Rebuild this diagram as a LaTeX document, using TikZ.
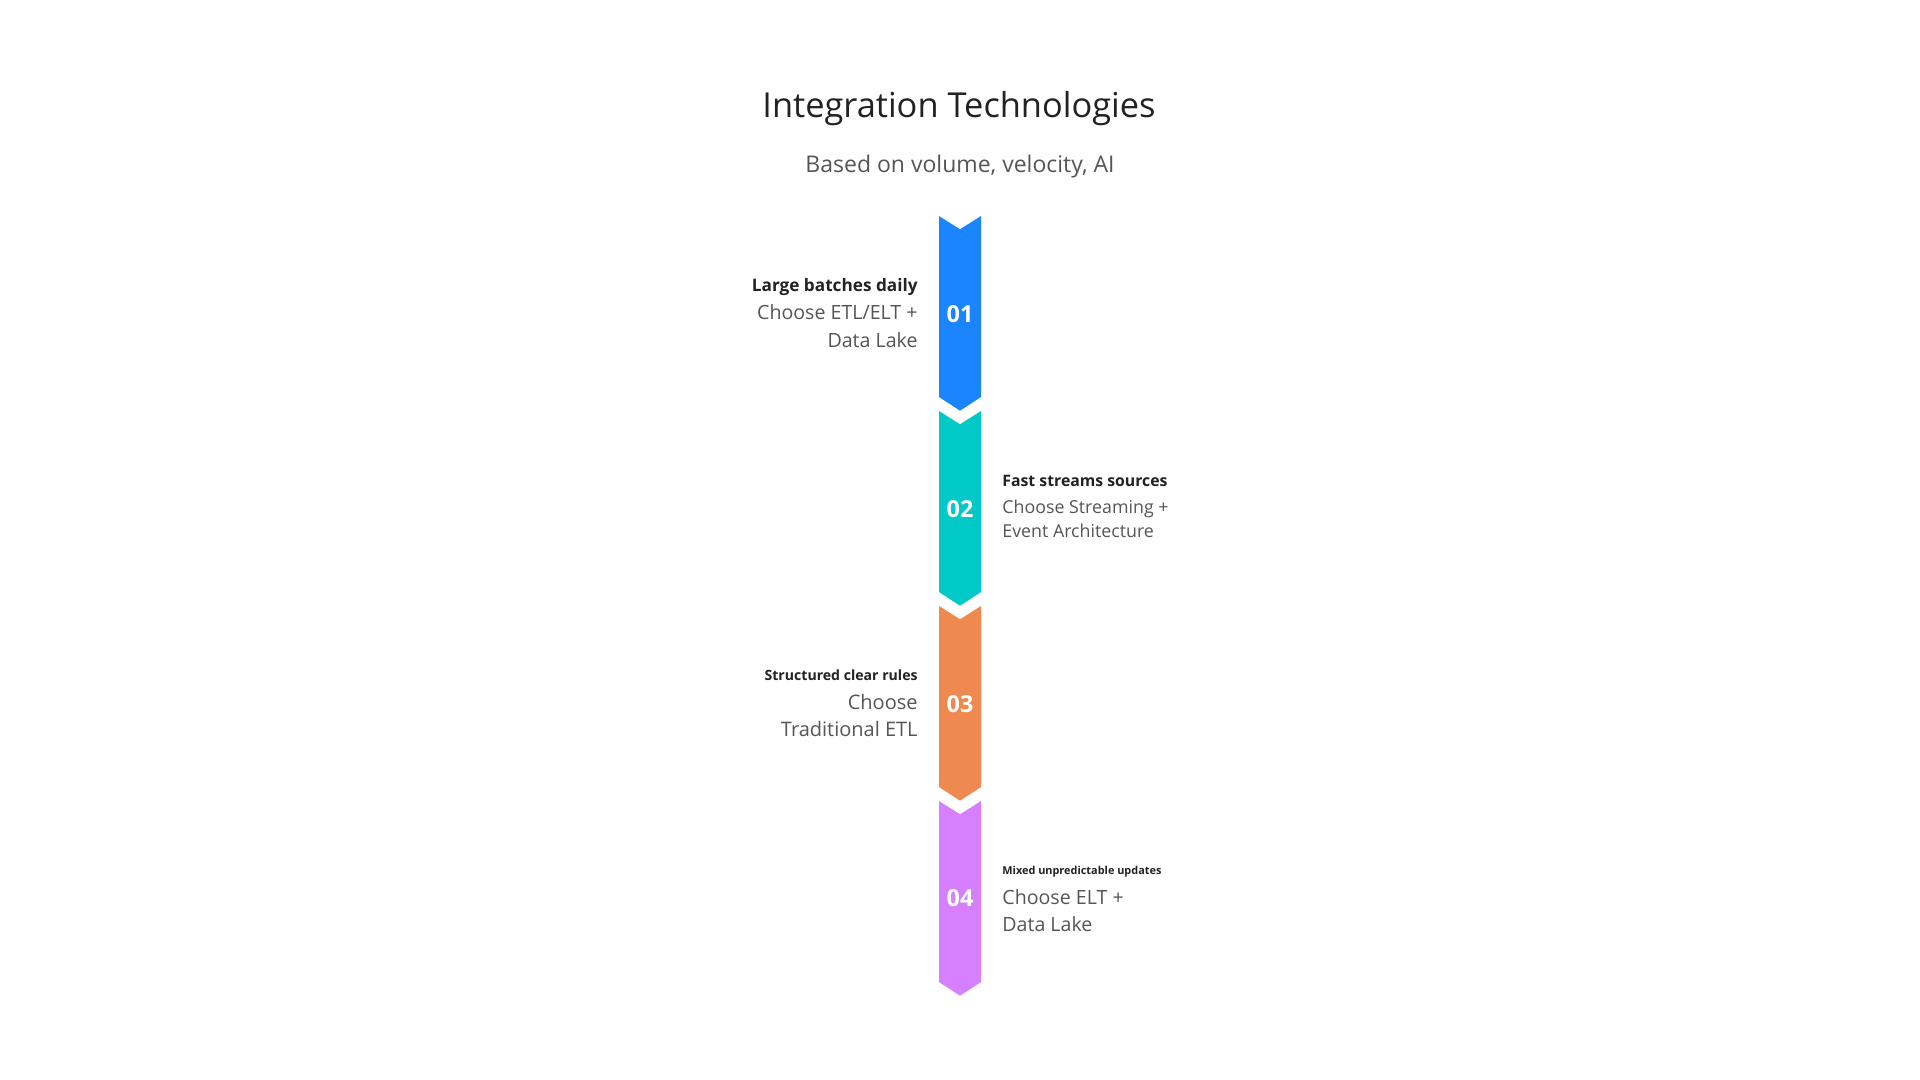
\documentclass[tikz,border=0pt]{standalone}
\usepackage{fontspec}
\setmainfont{Open Sans}

\definecolor{blue1}{HTML}{1A85FF}
\definecolor{teal2}{HTML}{00C9C8}
\definecolor{orange3}{HTML}{F0894F}
\definecolor{purple4}{HTML}{D680FF}
\definecolor{headtext}{HTML}{222222}
\definecolor{bodytext}{HTML}{555555}

\begin{document}
\begin{tikzpicture}[x=0.5pt, y=-0.5pt,
  num/.style={text=white, anchor=base, font=\bfseries\fontsize{11.7}{14}\selectfont},
  head/.style={text=headtext, inner sep=0pt, font=\bfseries},
  body/.style={text=bodytext, inner sep=0pt}]

\useasboundingbox (0,0) rectangle (1920,1080);

\node[text=headtext, anchor=base, inner sep=0pt, font=\fontsize{17.2}{20}\selectfont] (title) at (959,118) {Integration Technologies};
\node[text=bodytext, anchor=base, inner sep=0pt, font=\fontsize{11.5}{14}\selectfont] (subtitle) at (960,172.7) {Based on volume, velocity, AI};

% chevrons
\fill[blue1] (939,216) -- (960,229.3) -- (981,216) -- (981,397) -- (960,410.7) -- (939,397) -- cycle;
\fill[teal2] (939,411) -- (960,424.3) -- (981,411) -- (981,592) -- (960,605.7) -- (939,592) -- cycle;
\fill[orange3] (939,606) -- (960,619.3) -- (981,606) -- (981,787) -- (960,800.7) -- (939,787) -- cycle;
\fill[purple4] (939,801) -- (960,814.3) -- (981,801) -- (981,982) -- (960,995.7) -- (939,982) -- cycle;

\node[num] (01) at (960,322.7) {01};
\node[num] (02) at (960,517.3) {02};
\node[num] (03) at (960,712) {03};
\node[num] (04) at (960,906.7) {04};

% left side
\node[head, anchor=base east, font=\bfseries\fontsize{8.6}{10}\selectfont] (h1) at (918,291.7) {Large batches daily};
\node[body, anchor=base east, font=\fontsize{9.8}{11}\selectfont] (b1a) at (918,319.3) {Choose ETL/ELT +};
\node[body, anchor=base east, font=\fontsize{9.8}{11}\selectfont] (b1b) at (918,347.3) {Data Lake};

\node[head, anchor=base east, font=\bfseries\fontsize{7.05}{9}\selectfont] (h3) at (918,680) {Structured clear rules};
\node[body, anchor=base east, font=\fontsize{10}{12}\selectfont] (b3a) at (918,709.3) {Choose};
\node[body, anchor=base east, font=\fontsize{10}{12}\selectfont] (b3b) at (918,736.7) {Traditional ETL};

% right side
\node[head, anchor=base west, font=\bfseries\fontsize{7.9}{10}\selectfont] (h2) at (1002,486.7) {Fast streams sources};
\node[body, anchor=base west, font=\fontsize{8.9}{10}\selectfont] (b2a) at (1002,513.3) {Choose Streaming +};
\node[body, anchor=base west, font=\fontsize{8.9}{10}\selectfont] (b2b) at (1002,537.7) {Event Architecture};

\node[head, anchor=base west, font=\bfseries\fontsize{5.45}{7}\selectfont] (h4) at (1002,874) {Mixed unpredictable updates};
\node[body, anchor=base west, font=\fontsize{9.8}{12}\selectfont] (b4a) at (1002,904.3) {Choose ELT +};
\node[body, anchor=base west, font=\fontsize{9.8}{12}\selectfont] (b4b) at (1002,931.7) {Data Lake};
\end{tikzpicture}
\end{document}
